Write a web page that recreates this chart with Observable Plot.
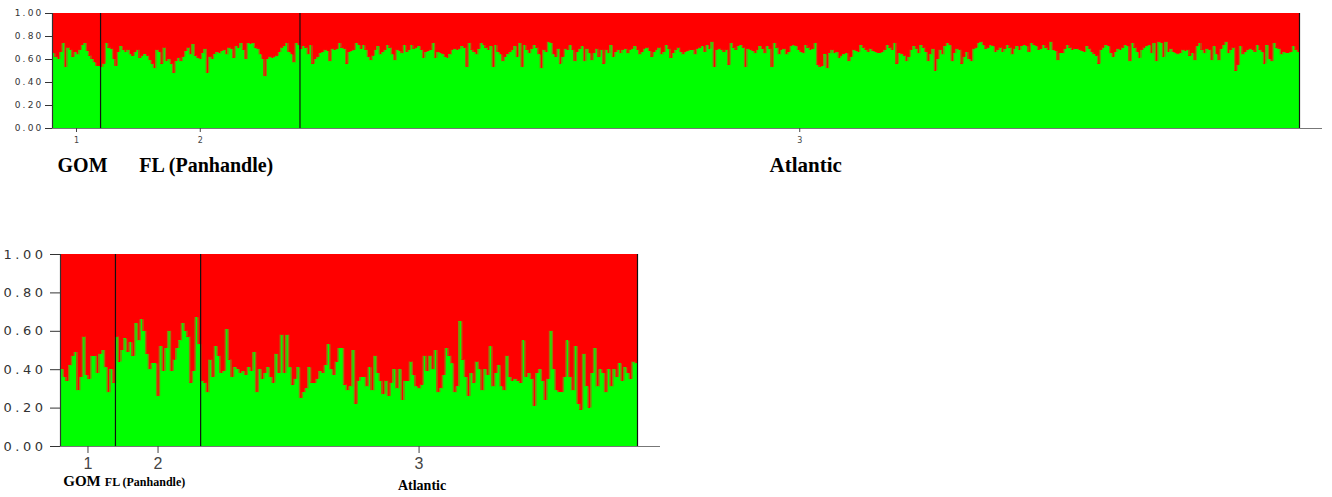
<!DOCTYPE html>
<html>
<head>
<meta charset="utf-8">
<script src="https://cdn.jsdelivr.net/npm/d3@7"></script>
<script src="https://cdn.jsdelivr.net/npm/@observablehq/plot@0.6"></script>
<style>
  body { margin: 0; background: #fff; }
  #wrap { position: relative; width: 1332px; height: 497px; overflow: hidden; }
  #top { position: absolute; left: 0; top: 0; }
  #bot { position: absolute; left: 0; top: 240px; }
  #top g[aria-label="y-axis tick label"] text { letter-spacing: 2.2px; }
  #bot g[aria-label="y-axis tick label"] text { letter-spacing: 3.5px; }
</style>
</head>
<body>
<div id="wrap"><div id="top"></div><div id="bot"></div></div>
<script>
// ---------------- data ----------------
const groupCodes = ["1", "2", "3"];
const groupNames = ["GOM", "FL (Panhandle)", "Atlantic"];
const yTicks = [0, 0.2, 0.4, 0.6, 0.8, 1.0];

// Upper panel: membership (green cluster) per individual
const topGOM = [.65,.62,.60,.66,.74,.53,.70,.68,.62,.66,.64,.68,.72,.74,.67,.63,.60,.57,.54,.54];
const topFL = [
  .53,.56,.74,.70,.69,.60,.54,.66,.71,.68,
  .66,.68,.64,.63,.66,.68,.61,.63,.64,.63,
  .59,.56,.52,.68,.66,.56,.70,.58,.60,.56,
  .48,.58,.61,.58,.62,.67,.70,.64,.73,.63,
  .61,.60,.65,.69,.48,.62,.60,.64,.66,.65,
  .67,.68,.64,.70,.69,.61,.71,.70,.74,.68,
  .60,.74,.73,.74,.70,.69,.64,.60,.45,.60,
  .62,.61,.62,.63,.66,.70,.71,.74,.66,.64,
  .57,.74,.72];
const topAtl = [
  .69,.71,.70,.64,.72,.56,.60,.62,.65,.66,.68,.67,.58,.69,.68,.69,.74,.70,.69,.56,
  .66,.67,.68,.74,.72,.69,.72,.68,.62,
  .59,.63,.68,.71,.64,.66,.68,.72,.70,.64,
  .59,.68,.67,.65,.72,.66,.68,.72,.69,.70,
  .71,.68,.61,.66,.67,.68,.74,.61,.66,.65,
  .64,.62,.61,.64,.68,.69,.68,.69,.71,.70,
  .53,.74,.68,.66,.64,.69,.74,.72,.70,.68,
  .71,.53,.72,.66,.64,.58,.62,.64,.66,.68,
  .71,.62,.74,.53,.72,.68,.65,.69,.72,.70,
  .64,.52,.68,.66,.75,.74,.64,.62,.69,.56,
  .62,.69,.68,.72,.68,.58,.66,.69,.71,.58,
  .69,.65,.59,.65,.69,.62,.68,.56,.68,.65,
  .72,.62,.66,.68,.65,.68,.69,.65,.68,.69,
  .71,.68,.64,.66,.69,.70,.67,.62,.66,.68,
  .70,.64,.66,.72,.69,.61,.65,.68,.70,.66,
  .64,
  .66,.67,.68,.68,.64,.69,.70,.71,.66,.72,
  .69,.75,.53,.68,.69,.68,.66,.68,.55,.74,
  .70,.68,.71,.72,.70,.53,.69,.68,.67,.65,
  .68,.71,.69,.65,.71,.69,.53,.74,.70,.64,
  .68,.69,.64,.66,.71,.72,.71,.68,.66,.65,
  .72,.70,.68,.69,.74,.55,.53,.54,.64,.52,
  .65,.68,.65,.66,.61,.63,.64,.65,.58,.62,
  .68,.67,.66,.72,.70,.68,.66,.69,.67,.66,
  .65,.65,.66,.68,.72,.70,.68,.74,.56,.65,
  .64,.63,.58,.62,.68,.71,.69,.65,.72,.70,
  .66,.58,.64,.69,.50,.60,.68,.64,.71,.74,
  .72,.58,.65,.69,.68,.56,.62,.66,.60,.58,
  .69,.70,.74,.75,.72,.69,.70,.72,.71,.66,
  .68,.70,.66,
  .69,.72,.70,.64,.69,.71,.68,.71,.72,.71,
  .66,.74,.72,.71,.68,.69,.72,.70,.68,.75,
  .68,.67,.59,.65,.65,.69,.72,.70,.68,.69,
  .69,.68,.67,.66,.71,.69,.66,.64,.63,.56,
  .68,.70,.72,.71,.65,.62,.66,.69,.68,.70,
  .72,.71,.58,.74,.70,.66,.61,.68,.70,.71,
  .72,.65,.74,.58,.75,.74,.62,.75,.66,.69,
  .66,.65,.64,.65,.68,.67,.68,.63,.65,.59,
  .71,.74,.68,.65,.69,.68,.59,.71,.64,.59,
  .69,.72,.75,.65,.68,.70,.50,.55,.71,.64,
  .66,.68,.69,.68,.66,.72,.68,.66,.56,.72,
  .60,.58,.74,.70,.69,.64,.66,.65,.65,.66,
  .71,.68,.66];

// Lower panel
const botGOM = [.40,.36,.34,.42,.47,.49,.29,.36,.57,.37,.35,.47,.47,.38,.48,.50,.41,.28,.40,.33];
const botFL = [.57,.44,.50,.56,.49,.54,.47,.64,.55,.66,.60,.48,.40,.43,.43,.26,.52,.39,.51,.60,
  .39,.45,.51,.55,.64,.60,.57,.33,.39,.67,.53];
const botAtl = [
  .34,.33,.28,.45,.36,.52,.47,.38,.39,.61,
  .45,.36,.41,.40,.38,.39,.37,.41,.39,.49,
  .28,.40,.35,.38,.41,.36,.33,.48,.38,.58,
  .38,.58,.41,.32,.35,.41,.25,.28,.30,.41,
  .33,.33,.35,.39,.38,.42,.53,
  .40,.37,.44,.51,
  .51,.32,.29,.31,.50,.22,.34,.36,.36,.31,
  .41,.29,.47,.38,.34,.27,.34,.26,.33,.40,
  .30,.40,.24,.34,.34,.44,.37,.31,.30,.32,
  .47,.39,.47,.40,.50,.28,.30,.37,.51,.47,
  .43,.28,.31,.65,.45,.36,.26,.38,.33,.44,
  .40,.29,.40,.37,.52,.31,.38,.42,.31,.29,
  .47,.36,.34,.35,.34,.33,.55,.36,.38,.35,
  .21,.38,.40,.34,.24,.35,.60,.40,.29,.28,
  .28,.36,.55,.36,.29,.52,.22,.19,.48,.31,
  .20,.38,.51,.31,.40,.38,.28,.40,.31,.40,
  .36,.43,.34,.41,.38,.35,.44,.43];

// ---------------- drawing ----------------
const RED = "#ff0000", GREEN = "#00ff00", EDGE = "#96780f";

function panel(groups, o) {
  const rows = [];
  groups.forEach((arr, g) => arr.forEach(q => rows.push({i: rows.length, q, g})));
  const N = rows.length;
  const starts = [], centers = [];
  let acc = 0;
  groups.forEach(arr => { starts.push(acc); centers.push(acc + arr.length / 2); acc += arr.length; });
  const separators = starts.slice(1).concat([N]);
  const labelMarks = groupNames.map((name, k) =>
    Plot.text([centers[k]], {
      x: d => d, y: 0, text: () => name, dx: o.labelDx[k], dy: o.labelDy[k],
      lineAnchor: "bottom", textAnchor: "middle",
      fontFamily: "'Liberation Serif', 'Times New Roman', serif", fontWeight: "bold",
      fontSize: o.labelSize[k], fill: "#000"
    }));
  return Plot.plot({
    width: o.width, height: o.height,
    marginLeft: o.ml, marginRight: o.mr, marginTop: o.mt, marginBottom: o.mb,
    x: {domain: [0, N * o.extend], axis: null, label: null},
    y: {domain: [0, 1], axis: null, label: null},
    style: {background: "#fff", overflow: "visible"},
    marks: [
      Plot.rect(rows, {x1: "i", x2: d => d.i + 1, y1: "q", y2: 1, fill: RED, inset: 0, shapeRendering: "crispEdges"}),
      Plot.rect(rows, {x1: "i", x2: d => d.i + 1, y1: 0, y2: "q", fill: GREEN, inset: 0, shapeRendering: "crispEdges"}),
      Plot.ruleX(rows.filter(d => d.i > 0), {x: "i", y1: d => rows[d.i - 1].q, y2: "q", stroke: EDGE, strokeWidth: o.edgeW}),
      Plot.ruleX(separators, {y1: 0, y2: 1, stroke: "#111", strokeWidth: 1.2}),
      Plot.ruleY([0], {stroke: "#777", strokeWidth: 1.2}),
      Plot.ruleX([0], {y1: 0, y2: 1, stroke: "#333", strokeWidth: 1.2}),
      Plot.axisY({ticks: yTicks, tickFormat: d => d.toFixed(2), tickSize: o.yTickSize, tickPadding: o.yTickPad,
        fontSize: o.yFont, fontFamily: "'DejaVu Sans', Verdana, sans-serif", color: "#333", label: null}),
      Plot.axisX({ticks: centers, tickFormat: d => groupCodes[centers.indexOf(d)], tickSize: o.xTickSize,
        tickPadding: o.xTickPad, fontSize: o.xFont, fontFamily: o.xFamily, color: "#444", label: null}),
      ...labelMarks
    ]
  });
}

document.getElementById("top").append(panel([topGOM, topFL, topAtl], {
  width: 1332, height: 180, ml: 52, mr: 10, mt: 13, mb: 52, extend: 1270 / 1247,
  edgeW: 1.3, yTickSize: 7, yTickPad: 2, yFont: 9, xTickSize: 4, xTickPad: 5, xFont: 8,
  xFamily: "'DejaVu Sans', sans-serif",
  labelDx: [6, 6, 6], labelDy: [43, 43, 43], labelSize: [20, 20, 21]
}));

document.getElementById("bot").append(panel([botGOM, botFL, botAtl], {
  width: 700, height: 257, ml: 60, mr: 40, mt: 14, mb: 51, extend: 600 / 577,
  edgeW: 1.5, yTickSize: 10, yTickPad: 4, yFont: 13, xTickSize: 7, xTickPad: 4, xFont: 16,
  xFamily: "'Liberation Sans', Arial, sans-serif",
  labelDx: [-6, -13, 3], labelDy: [39, 39, 43], labelSize: [15, 12, 14]
}));
</script>
</body>
</html>
